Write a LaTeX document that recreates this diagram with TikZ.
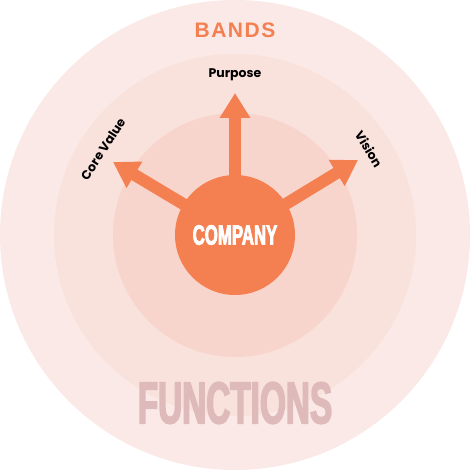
\documentclass[tikz,border=0pt]{standalone}
\usepackage{fontspec}
\setmainfont{Liberation Sans}
\newfontfamily\labelfont{Poppins}[BoldFont=* Bold]
\newfontfamily\narrowfont{Liberation Sans Bold}[FakeStretch=0.6, FakeBold=2.5]
\newfontfamily\posterfont{Liberation Sans Bold}[FakeStretch=0.565, FakeBold=2.5]
\usetikzlibrary{arrows.meta}
\definecolor{ringout}{HTML}{FBE9E7}
\definecolor{ringmid}{HTML}{F9E1DC}
\definecolor{ringin}{HTML}{F8D5CC}
\definecolor{coreorange}{HTML}{F47F50}
\definecolor{fadedrose}{HTML}{DEBBBA}
\tikzset{
  ring/.style={circle, draw=none, inner sep=0pt},
  pointer/.style={draw=coreorange, line width=12pt, -{Triangle[length=25pt, width=29pt]}},
  ringlabel/.style={font=\labelfont\bfseries\fontsize{12.5}{14}\selectfont, text=black, inner sep=1pt}
}
\begin{document}
\begin{tikzpicture}[x=1pt, y=1pt]
        % \draw[help lines, gray!50, very thin] (-235,-235) grid[step=20] (235,235);
        \useasboundingbox (-235,-235) rectangle (235,235);

        \node[ring, fill=ringout, minimum size=470pt] (outer) at (0,0) {};
        \node[ring, fill=ringmid, minimum size=362pt] (middle) at (0,0) {};
        \node[ring, fill=ringin, minimum size=244pt] (inner) at (0,0) {};

        \coordinate (purposetip) at (0,142);
        \coordinate (coretip) at (-122,73);
        \coordinate (visiontip) at (123,75);
        \draw[pointer] (0,0) -- (purposetip);
        \draw[pointer] (0,0) -- (coretip);
        \draw[pointer] (0,0) -- (visiontip);

        \node[ring, fill=coreorange, minimum size=120pt,
              font=\narrowfont\fontsize{28}{30}\selectfont, text=white] (company) at (0,0) {COMPANY};

        \node[ringlabel] (purpose) at (0,160) {Purpose};
        \node[ringlabel, rotate=57] (corevalue) at (-132,86) {Core Value};
        \node[ringlabel, rotate=-59] (vision) at (134,86) {Vision};

        \node[font=\bfseries\fontsize{21}{24}\selectfont\addfontfeatures{LetterSpace=7}, text=coreorange] (bands) at (0,205) {BANDS};
        \node[font=\posterfont\fontsize{59}{62}\selectfont, text=fadedrose] (functions) at (0,-168) {FUNCTIONS};
      \end{tikzpicture}
\end{document}
